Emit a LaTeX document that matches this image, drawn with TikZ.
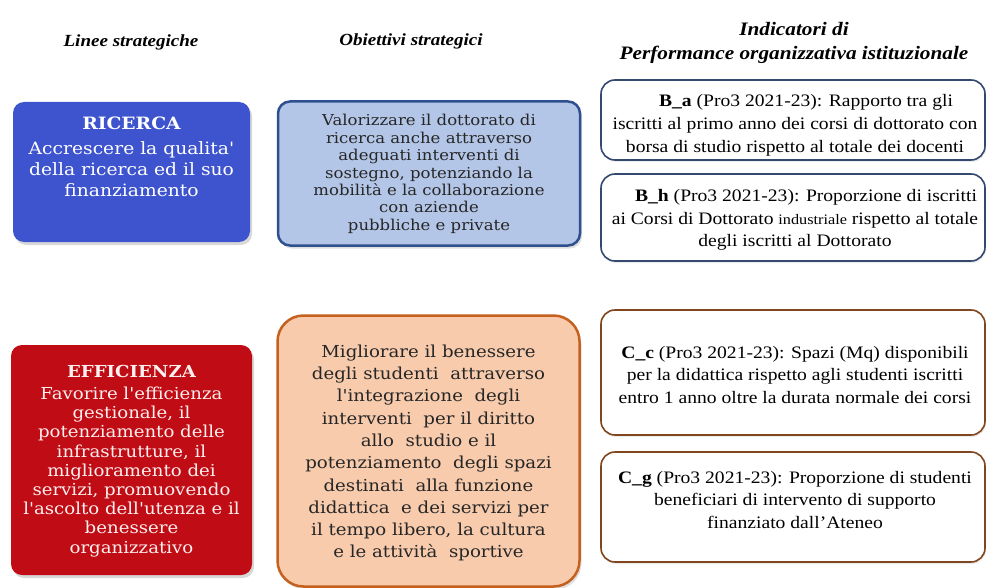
\documentclass[tikz,border=0pt]{standalone}
\usepackage{fontspec}
\setmainfont[FakeStretch=1.12]{Liberation Serif}
\newfontfamily\slab[FakeStretch=1.1]{DejaVu Serif}
\usetikzlibrary{positioning,shadows}
\definecolor{ricblue}{RGB}{62,84,206}
\definecolor{effred}{RGB}{192,12,20}
\definecolor{objblue}{RGB}{180,198,231}
\definecolor{objblueline}{RGB}{47,80,143}
\definecolor{objorange}{RGB}{248,203,173}
\definecolor{objorangeline}{RGB}{197,96,30}
\definecolor{indblue}{RGB}{52,72,112}
\definecolor{indbrown}{RGB}{128,70,30}
\tikzset{
    titolo/.style = {
        font=\fontsize{17}{24}\selectfont\bfseries\itshape,
        align=center
    },
    linea/.style = {
        shape=rectangle,
        rounded corners=11pt,
        drop shadow={shadow xshift=2pt, shadow yshift=-3pt, opacity=0.3}
    },
    lineatxt/.style = {
        text=white,
        align=center,
        font=\slab\fontsize{17}{21}\selectfont
    },
    obiettivo/.style = {
        draw,
        shape=rectangle,
        line width=2.5pt,
        drop shadow={shadow xshift=2pt, shadow yshift=-3pt, opacity=0.25}
    },
    obiettivotxt/.style = {
        align=center,
        text=black!85
    },
    indicatore/.style = {
        draw,
        shape=rectangle,
        rounded corners=14pt,
        line width=1.6pt,
        fill=white,
        minimum width=384,
        drop shadow={shadow xshift=1pt, shadow yshift=-2pt, opacity=0.15}
    },
    indicatoretxt/.style = {
        align=center,
        font=\fontsize{17.5}{22.8}\selectfont
    },
}

\begin{document}
\begin{tikzpicture}[x=1pt,y=1pt]
    \useasboundingbox[fill=white] (0,0) rectangle (987,-588);

    % intestazioni
    \node[titolo] (hlinee) at (131,-42) {Linee strategiche};
    \node[titolo] (hobiettivi) at (411,-41) {Obiettivi strategici};
    \node[titolo, font=\fontsize{19}{24}\selectfont\bfseries\itshape] (hindicatori) at (794,-43) {Indicatori di\\Performance organizzativa istituzionale};

    % linee strategiche
    \node[linea, fill=ricblue, minimum width=237, minimum height=140] (ricerca) at (131.5,-172) {};
    \node[lineatxt] (ricercatxt) at (131.5,-157) {{\bfseries RICERCA}\\[4pt]
        Accrescere la qualita'\\della ricerca ed il suo\\finanziamento};
    \node[linea, fill=effred, minimum width=241, minimum height=230] (efficienza) at (131.5,-460) {};
    \node[lineatxt, text=white!94!red, font=\slab\fontsize{16.5}{19.2}\selectfont] (efficienzatxt) at (131.5,-461) {{\bfseries EFFICIENZA}\\[3pt]
        Favorire l'efficienza\\gestionale, il\\potenziamento delle\\infrastrutture, il\\miglioramento dei\\
        servizi, promuovendo\\l'ascolto dell'utenza e il\\benessere\\organizzativo};

    % obiettivi strategici
    \node[obiettivo, draw=objblueline, fill=objblue, rounded corners=12pt,
        minimum width=302, minimum height=144] (obricerca) at (429,-173.5) {};
    \node[obiettivotxt, font=\slab\fontsize{15}{17.4}\selectfont] (obricercatxt) at (429,-174) {%
        Valorizzare il dottorato di\\ricerca anche attraverso\\adeguati interventi di\\
        sostegno, potenziando la\\mobilità e la collaborazione\\con aziende\\pubbliche e private};
    \node[obiettivo, draw=objorangeline, fill=objorange, rounded corners=26pt,
        minimum width=302, minimum height=271] (obefficienza) at (428.5,-451) {};
    \node[obiettivotxt, font=\slab\fontsize{16.5}{22.3}\selectfont] (obefficienzatxt) at (428.5,-453) {%
        Migliorare il benessere\\degli studenti\ \ attraverso\\l'integrazione\ \ degli\\
        interventi\ \ per il diritto\\allo\ \ studio e il\\potenziamento\ \ degli spazi\\
        destinati\ \ alla funzione\\didattica\ \ e dei servizi per\\il tempo libero, la cultura\\
        e le attività\ \ sportive};

    % indicatori
    \node[indicatore, draw=indblue, minimum height=80] (ba) at (793,-120) {};
    \node[indicatoretxt] (batxt) at (795,-125) {\hspace{22pt}\textbf{B\_a} (Pro3 2021-23): Rapporto tra gli\\
        iscritti al primo anno dei corsi di dottorato con\\borsa di studio rispetto al totale dei docenti};
    \node[indicatore, draw=indblue, minimum height=87] (bh) at (793,-217.5) {};
    \node[indicatoretxt] (bhtxt) at (795,-220) {\hspace{22pt}\textbf{B\_h} (Pro3 2021-23): Proporzione di iscritti\\
        ai Corsi di Dottorato {\fontsize{14.5}{22.8}\selectfont industriale} rispetto al totale\\degli iscritti al Dottorato};
    \node[indicatore, draw=indbrown, minimum height=125] (cc) at (793,-372.5) {};
    \node[indicatoretxt] (cctxt) at (795,-375) {\textbf{C\_c} (Pro3 2021-23): Spazi (Mq) disponibili\\
        per la didattica rispetto agli studenti iscritti\\entro 1 anno oltre la durata normale dei corsi};
    \node[indicatore, draw=indbrown, minimum height=110] (cg) at (793,-507) {};
    \node[indicatoretxt] (cgtxt) at (795,-500) {\textbf{C\_g} (Pro3 2021-23): Proporzione di studenti\\
        beneficiari di intervento di supporto\\finanziato dall'Ateneo};
\end{tikzpicture}
\end{document}
